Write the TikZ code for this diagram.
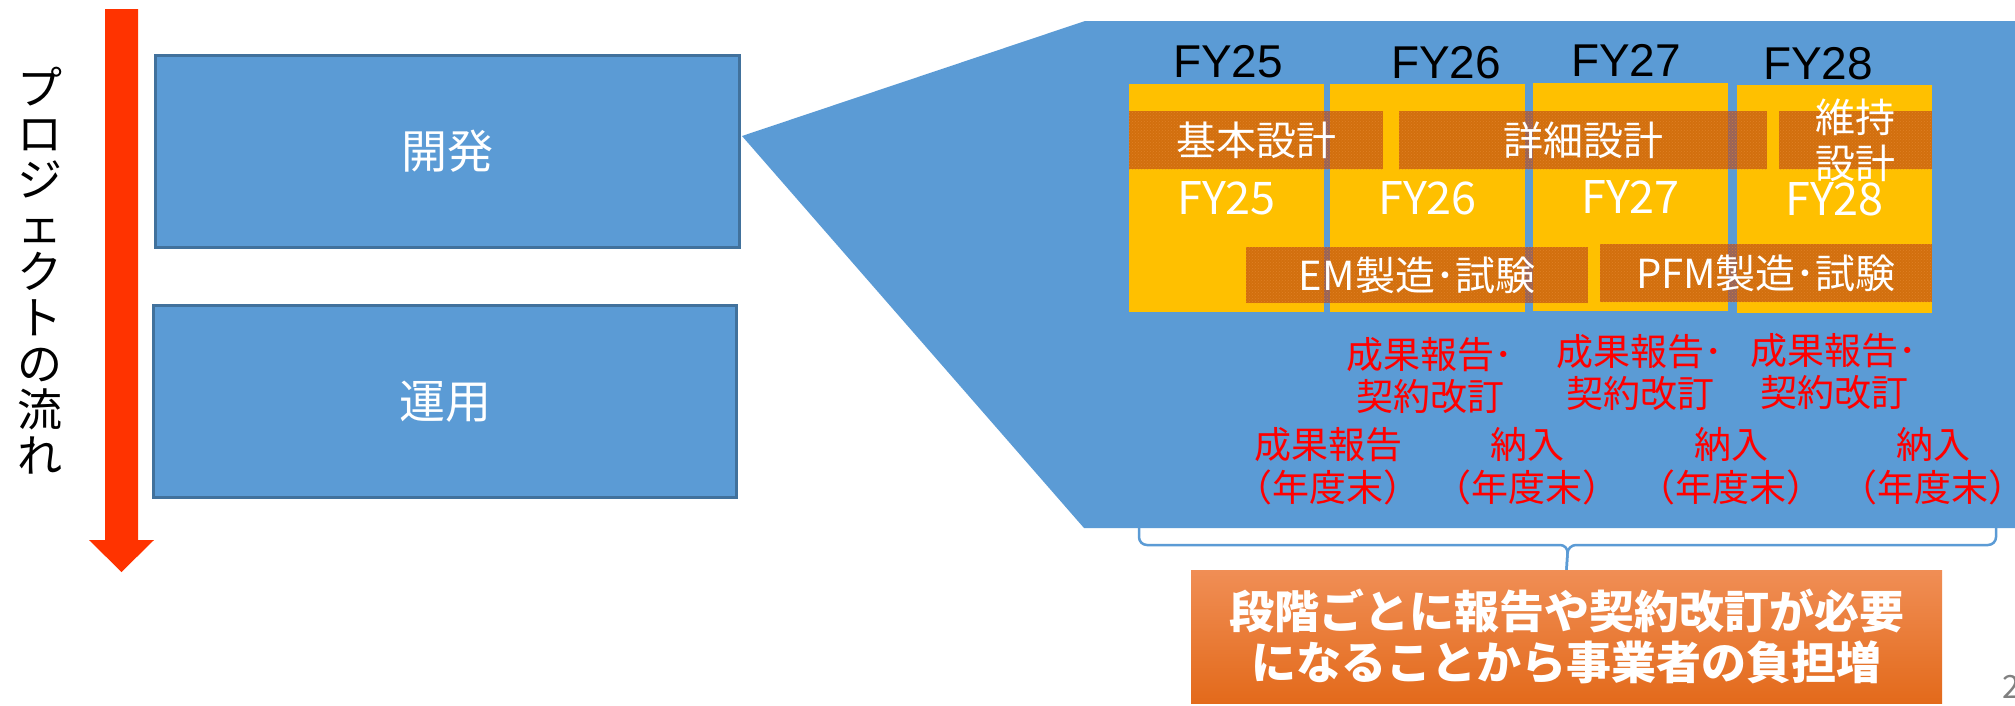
\documentclass[tikz,border=0pt]{standalone}
\usepackage{fontspec}
\setmainfont{Noto Sans CJK JP}
\newfontfamily\arialf{Liberation Sans}
\usetikzlibrary{patterns}
\definecolor{pblue}{HTML}{5B9BD5}
\definecolor{pborder}{HTML}{41719C}
\definecolor{parrow}{HTML}{FF3300}
\definecolor{pyellow}{HTML}{FFC000}
\definecolor{pbrown}{RGB}{186,69,23}
\definecolor{pdots}{HTML}{E88A30}
\definecolor{pred}{HTML}{FF0000}
\definecolor{otop}{HTML}{F08E55}
\definecolor{obot}{HTML}{E36A1B}
\definecolor{pgray}{HTML}{808080}
\newcommand{\fsz}[2]{\fontsize{#1}{#2}\selectfont}
\begin{document}
\begin{tikzpicture}[x=1pt,y=-1pt,
  phase/.style={draw=pborder, line width=3pt, fill=pblue, text=white,
    font=\fsz{46}{52}, inner sep=0},
  ycol/.style={fill=pyellow, inner sep=0, minimum width=195pt, minimum height=228pt},
  wfy/.style={text=white, font=\fsz{45}{50}, inner sep=0},
  bar/.style={fill=pbrown, fill opacity=0.65, inner sep=0,
    postaction={pattern=crosshatch dots, pattern color=pdots}},
  wtxt/.style={text=white, font=\fsz{40}{46}, inner sep=0, align=center},
  blk/.style={font=\arialf\fsz{46}{50}, text=black, inner sep=0},
  rtxt/.style={font=\fsz{37}{43}, text=pred, inner sep=0, align=center},
]
\useasboundingbox (0,0) rectangle (2015,705);
\fill[white] (0,0) rectangle (2015,705);

% left phase boxes
\node[phase, minimum width=584pt, minimum height=192pt] (dev) at (447.5,151.5) {開発};
\node[phase, minimum width=583pt, minimum height=192pt] (ops) at (445,401.5) {運用};

% project flow arrow
\fill[parrow] (105,9) -- (138,9) -- (138,540) -- (154,540) -- (121.5,572)
  -- (89,540) -- (105,540) -- cycle;
\node[font=\fsz{45}{46}, align=center, inner sep=0] (flow) at (40,271)
  {プ\\ロ\\ジ\\ェ\\ク\\ト\\の\\流\\れ};

% zoom-out callout
\coordinate (apex) at (742,136);
\fill[pblue] (apex) -- (1085,21) -- (2015,21) -- (2015,528) -- (1084,528) -- cycle;

% year columns
\node[ycol] (c1) at (1226.5,198) {};
\node[ycol] (c2) at (1427.5,198) {};
\node[ycol] (c3) at (1630.5,197) {};
\node[ycol] (c4) at (1834.5,199) {};
\node[wfy] (y1) at (c1) {FY25};
\node[wfy] (y2) at (c2) {FY26};
\node[wfy] (y3) at (c3) {FY27};
\node[wfy] (y4) at (c4) {FY28};

% year headers
\node[blk] (h1) at (1228,62) {FY25};
\node[blk] (h2) at (1446,63) {FY26};
\node[blk] (h3) at (1626,60) {FY27};
\node[blk] (h4) at (1818,64) {FY28};

% phase bars
\node[bar, minimum width=254pt, minimum height=58pt] (b1) at (1256,140) {};
\node[bar, minimum width=368pt, minimum height=58pt] (b2) at (1583,140) {};
\node[bar, minimum width=153pt, minimum height=58pt] (b3) at (1855.5,140) {};
\node[bar, minimum width=342pt, minimum height=56pt] (b4) at (1417,275) {};
\node[bar, minimum width=332pt, minimum height=58pt] (b5) at (1766,273) {};
\node[wtxt] (t1) at (b1) {基本設計};
\node[wtxt] (t2) at (b2) {詳細設計};
\node[wtxt] (t3) at (b3) {維持\\設計};
\node[wtxt] (t4) at (b4) {EM製造･試験};
\node[wtxt] (t5) at (b5) {PFM製造･試験};

% red milestones
\node[rtxt, font=\fsz{37}{42}] (m1) at (1430,376) {成果報告･\\契約改訂};
\node[rtxt, font=\fsz{37}{42}] (m2) at (1640,373) {成果報告･\\契約改訂};
\node[rtxt, font=\fsz{37}{42}] (m3) at (1834,371.5) {成果報告･\\契約改訂};
\node[rtxt] (n1) at (1328,466.5) {成果報告\\（年度末）};
\node[rtxt] (n2) at (1527,466.5) {納入\\（年度末）};
\node[rtxt] (n3) at (1731,466.5) {納入\\（年度末）};
\node[rtxt] (n4) at (1933,466.5) {納入\\（年度末）};

% conclusion box
\node[top color=otop, bottom color=obot, minimum width=751pt, minimum height=133pt,
  inner sep=0, text=white, font=\bfseries\fsz{45}{51}, align=center]
  (res) at (1566.5,636.5) {段階ごとに報告や契約改訂が必要\\になることから事業者の負担増};

% brace
\coordinate (bl) at (1139,528);
\coordinate (br) at (1996,528);
\draw[pblue, line width=2.5pt, rounded corners=8pt]
  (bl) -- (1139,545) -- (1568,545) -- (res.north);
\draw[pblue, line width=2.5pt, rounded corners=8pt]
  (br) -- (1996,545) -- (1568,545) -- (res.north);

% page number
\node[anchor=west, text=pgray, font=\fsz{32}{36}, inner sep=0] (pg) at (2002,687) {2};
\end{tikzpicture}
\end{document}
